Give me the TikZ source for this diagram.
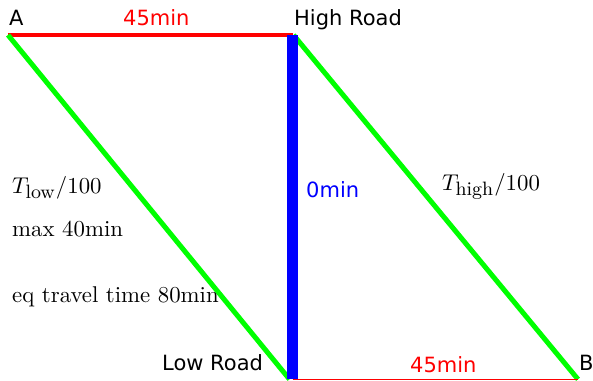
\documentclass[tikz,border=0pt]{standalone}
\usepackage{fontspec}
\newfontfamily\labelsans{DejaVu Sans}
\newcommand{\bigserif}[1]{\scalebox{2.28}{\fontsize{10}{12}\selectfont #1}}
\newcommand{\subtxt}[1]{\mbox{\fontsize{8.5}{10}\selectfont #1}}
\begin{document}
\begin{tikzpicture}[x=1pt,y=-1pt,
  lab/.style={inner sep=0pt,anchor=base west,font=\fontsize{21}{25}\selectfont\labelsans},
  mlab/.style={inner sep=0pt,anchor=base west},
  road/.style={line width=5pt,green},
]
\useasboundingbox (0,0) rectangle (593,380);
\coordinate (pA) at (8,35);
\coordinate (pH) at (292.5,35);
\coordinate (pL) at (292.5,379.3);
\coordinate (pB) at (578,379.3);
\draw[red,line width=4pt] (pA) -- (pH);
\draw[road] (pA) -- ([xshift=-3pt]pL);
\draw[road] ([xshift=1pt]pH) -- (pB);
\draw[red,line width=1.3pt] (pL) -- (pB);
\draw[blue,line width=11pt] (pH) -- (pL);
\node[lab] (A) at (9,25) {A};
\node[lab] (HR) at (294,25) {High Road};
\node[lab] (LR) at (162,370) {Low Road};
\node[lab] (B) at (579,370) {B};
\node[lab,red] (t1) at (123,25) {45min};
\node[lab,red] (t2) at (410,372) {45min};
\node[lab,blue] (t0) at (306,197) {0min};
\node[mlab] (tl) at (12,193) {\bigserif{$T_{\subtxt{low}}/100$}};
\node[mlab] (mx) at (12,236) {\bigserif{max 40min}};
\node[mlab] (eq) at (12,302) {\bigserif{eq travel time 80min}};
\node[mlab] (th) at (442,190) {\bigserif{$T_{\subtxt{high}}/100$}};
\end{tikzpicture}
\end{document}
